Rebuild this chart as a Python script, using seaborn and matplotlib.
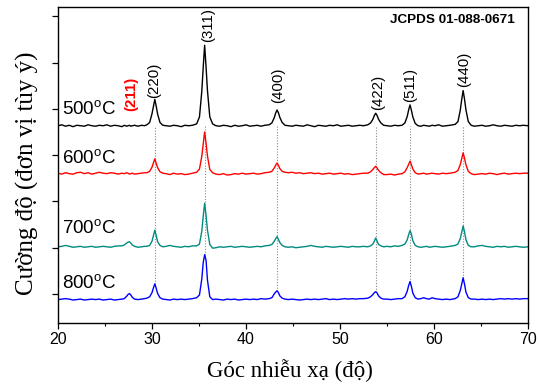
import numpy as np
import pandas as pd
import matplotlib
matplotlib.use("Agg")
import matplotlib.pyplot as plt
import seaborn as sns
from matplotlib.ticker import MultipleLocator

# ---------------- data ----------------
two_theta = [
    20.0, 20.4, 20.8, 21.2, 21.6, 22.0, 22.4, 22.8, 23.2, 23.6, 24.0, 24.4, 24.8, 25.2, 25.6, 26.0, 26.4, 26.8,
    27.05, 27.3, 27.45, 27.6, 27.75, 27.9, 28.15,
    28.5, 28.9, 29.2,
    29.45, 29.75, 30.0, 30.15, 30.3, 30.45, 30.6, 30.85, 31.15,
    31.5, 31.9, 32.3, 32.7, 33.1, 33.5, 33.9, 34.3,
    34.75, 35.05, 35.3, 35.45, 35.6, 35.75, 35.9, 36.15, 36.45,
    36.8, 37.2, 37.6, 38.0, 38.4, 38.8, 39.2, 39.6, 40.0, 40.4, 40.8, 41.2, 41.6, 42.0,
    42.45, 42.75, 43.0, 43.15, 43.3, 43.45, 43.6, 43.85, 44.15,
    44.5, 44.9, 45.3, 45.7, 46.1, 46.5, 46.9, 47.3, 47.7, 48.1, 48.5, 48.9, 49.3, 49.7, 50.1, 50.5, 50.9, 51.3, 51.7, 52.1, 52.5,
    52.95, 53.25, 53.5, 53.65, 53.8, 53.95, 54.1, 54.35, 54.65,
    55.0, 55.4, 55.8, 56.2,
    56.6, 56.9, 57.15, 57.3, 57.45, 57.6, 57.75, 58.0, 58.3,
    58.6, 58.9, 59.2, 59.5, 59.8, 60.1, 60.5, 60.9, 61.3, 61.7, 62.0,
    62.25, 62.55, 62.8, 62.95, 63.1, 63.25, 63.4, 63.65, 63.95,
    64.3, 64.7, 65.1, 65.5, 65.9, 66.3, 66.7, 67.1, 67.5, 67.9, 68.3, 68.7, 69.1, 69.5, 70.0,
]

I_500 = [
    0.00, 0.02, -0.01, 0.01, -0.02, 0.01, 0.00, -0.01, 0.02, 0.00, -0.01, 0.01, 0.00, 0.02, -0.01, 0.01, 0.00, -0.02,
    0.01, -0.01, 0.00, 0.01, -0.01, 0.00, 0.01,
    -0.01, 0.01, 0.00,
    0.02, 0.07, 0.26, 0.42, 0.57, 0.42, 0.25, 0.07, 0.01,
    0.00, -0.01, 0.01, 0.00, -0.02, 0.01, 0.00, 0.01,
    0.04, 0.19, 0.75, 1.27, 1.74, 1.27, 0.76, 0.19, 0.04,
    0.00, -0.01, 0.01, 0.00, -0.02, 0.01, -0.01, 0.00, 0.02, -0.01, 0.00, 0.01, -0.01, 0.01,
    0.02, 0.06, 0.17, 0.27, 0.34, 0.28, 0.18, 0.07, 0.01,
    0.00, -0.01, 0.01, 0.00, -0.01, 0.02, 0.00, -0.02, 0.01, 0.00, -0.01, 0.01, 0.00, 0.02, -0.01, 0.00, 0.01, -0.01, 0.00, 0.01, 0.00,
    0.02, 0.06, 0.14, 0.22, 0.27, 0.22, 0.14, 0.06, 0.01,
    0.00, -0.01, 0.01, 0.00,
    0.01, 0.06, 0.20, 0.34, 0.45, 0.33, 0.19, 0.05, 0.00,
    -0.01, 0.01, 0.00, -0.01, 0.01, 0.00, 0.02, -0.01, 0.00, 0.01, 0.02,
    0.03, 0.09, 0.34, 0.57, 0.76, 0.57, 0.34, 0.09, 0.01,
    -0.01, 0.00, 0.01, -0.01, 0.00, 0.02, 0.00, -0.01, 0.01, 0.00, -0.01, 0.01, 0.00, 0.01, 0.00,
]

I_600 = [
    0.01, -0.01, 0.02, 0.00, -0.01, 0.02, 0.03, 0.00, 0.02, -0.01, 0.01, 0.03, 0.01, 0.00, 0.02, 0.01, -0.01, 0.01,
    0.00, 0.02, 0.01, -0.01, 0.00, 0.01, -0.01,
    0.00, 0.01, 0.02,
    0.02, 0.05, 0.14, 0.23, 0.32, 0.22, 0.13, 0.04, 0.01,
    0.00, -0.02, 0.01, -0.01, 0.00, -0.02, -0.01, 0.01,
    0.03, 0.10, 0.38, 0.65, 0.90, 0.66, 0.38, 0.09, 0.02,
    -0.01, -0.02, 0.00, -0.03, -0.02, 0.00, -0.01, 0.01, -0.01, 0.00, 0.01, -0.01, 0.00, 0.02,
    0.03, 0.05, 0.12, 0.18, 0.23, 0.18, 0.11, 0.05, 0.03,
    0.02, 0.03, 0.01, 0.02, 0.00, 0.01, 0.02, 0.00, 0.01, -0.01, 0.00, 0.01, -0.01, 0.00, 0.01, -0.01, 0.00, -0.02, -0.01, 0.00, 0.01,
    0.01, 0.04, 0.09, 0.13, 0.16, 0.12, 0.07, 0.02, -0.02,
    -0.02, -0.01, -0.03, -0.01,
    0.00, 0.04, 0.13, 0.20, 0.27, 0.19, 0.10, 0.02, -0.01,
    0.00, 0.01, -0.01, 0.00, 0.01, 0.00, -0.01, 0.01, 0.00, 0.01, 0.02,
    0.03, 0.07, 0.20, 0.33, 0.45, 0.33, 0.19, 0.05, 0.00,
    -0.02, -0.01, 0.00, -0.01, 0.01, 0.00, -0.02, 0.00, 0.01, -0.01, 0.00, 0.01, 0.00, 0.01, 0.01,
]

I_700 = [
    0.00, 0.01, 0.03, 0.01, -0.01, 0.00, 0.01, -0.01, 0.00, 0.01, -0.01, 0.00, 0.01, 0.00, -0.01, 0.01, 0.02, 0.02,
    0.04, 0.08, 0.10, 0.11, 0.08, 0.04, 0.01,
    -0.01, 0.00, 0.01,
    0.01, 0.03, 0.12, 0.24, 0.36, 0.24, 0.11, 0.03, 0.00,
    0.01, 0.03, 0.01, 0.00, -0.01, 0.01, 0.00, 0.02,
    0.02, 0.06, 0.34, 0.66, 0.94, 0.68, 0.36, 0.05, -0.03,
    -0.02, 0.00, -0.01, 0.00, 0.01, -0.01, 0.00, 0.01, 0.00, -0.01, 0.00, 0.01, 0.00, 0.02,
    0.03, 0.05, 0.12, 0.17, 0.22, 0.16, 0.09, 0.03, 0.00,
    -0.01, 0.00, -0.02, -0.01, 0.00, 0.01, 0.03, 0.01, 0.00, -0.01, 0.01, 0.00, -0.01, 0.00, 0.01, 0.00, -0.01, 0.01, 0.00, 0.00, 0.01,
    0.00, 0.02, 0.06, 0.12, 0.19, 0.12, 0.05, 0.02, 0.00,
    0.01, 0.00, 0.02, 0.01,
    0.03, 0.06, 0.15, 0.26, 0.35, 0.27, 0.13, 0.03, 0.00,
    -0.01, 0.00, 0.01, -0.01, 0.00, 0.01, 0.00, -0.01, 0.00, 0.01, 0.02,
    0.03, 0.06, 0.18, 0.32, 0.45, 0.32, 0.15, 0.03, 0.00,
    0.00, 0.02, 0.03, 0.01, 0.00, -0.01, 0.01, 0.00, 0.01, -0.01, 0.00, 0.01, 0.00, -0.01, 0.00,
]

I_800 = [
    0.00, 0.01, 0.02, 0.01, -0.01, 0.00, 0.01, -0.01, 0.00, 0.01, 0.00, 0.01, -0.01, 0.00, 0.01, -0.01, 0.00, 0.01,
    0.02, 0.07, 0.11, 0.13, 0.10, 0.05, 0.01,
    0.00, 0.01, 0.02,
    0.03, 0.06, 0.15, 0.25, 0.34, 0.24, 0.13, 0.04, 0.01,
    0.00, -0.01, 0.01, 0.00, 0.01, 0.00, 0.01, 0.02,
    0.04, 0.10, 0.45, 0.80, 0.97, 0.85, 0.42, 0.06, 0.00,
    0.01, 0.00, -0.01, 0.01, 0.00, 0.01, -0.01, 0.00, 0.01, 0.00, 0.01, 0.00, 0.02, 0.01,
    0.02, 0.04, 0.12, 0.16, 0.19, 0.15, 0.08, 0.03, 0.01,
    0.00, 0.01, 0.00, -0.01, 0.00, 0.01, 0.00, 0.01, 0.00, 0.01, 0.02, 0.00, 0.01, 0.00, 0.01, 0.02, 0.01, 0.02, 0.01, 0.02, 0.02,
    0.03, 0.06, 0.11, 0.15, 0.17, 0.14, 0.08, 0.03, 0.01,
    0.01, 0.00, 0.01, 0.02,
    0.02, 0.06, 0.18, 0.30, 0.39, 0.28, 0.14, 0.04, 0.01,
    0.02, 0.04, 0.02, 0.01, 0.04, 0.02, 0.01, 0.00, 0.01, 0.00, 0.01,
    0.02, 0.06, 0.20, 0.34, 0.47, 0.33, 0.16, 0.04, 0.01,
    0.01, 0.00, 0.01, 0.00, 0.01, 0.00, 0.01, 0.02, 0.01, 0.02, 0.01, 0.02, 0.01, 0.02, 0.02,
]

temperatures = ["500", "600", "700", "800"]
peak_positions = [30.3, 35.6, 43.3, 53.8, 57.45, 63.1]
hkl_labels = ["(220)", "(311)", "(400)", "(422)", "(511)", "(440)"]
extra_label = "(211)"
reference_card = "JCPDS 01-088-0671"
x_label = "Góc nhiễu xạ (độ)"
y_label = "Cường độ (đơn vị tùy ý)"

# ---------------- layout / style ----------------
offsets = [3.635, 2.60, 1.02, -0.12]
colors = ["#000000", "#ff0000", "#008b80", "#0000ff"]
temp_label_y = [3.87, 2.80, 1.29, 0.10]
hkl_x = [30.2, 35.96, 43.46, 54.04, 57.45, 63.2]
hkl_y = [4.23, 5.44, 4.13, 3.97, 4.15, 4.47]

sns.set_theme(style="white")
plt.rcParams["font.family"] = ["Liberation Sans", "DejaVu Sans"]
plt.rcParams["mathtext.fontset"] = "custom"
plt.rcParams["mathtext.rm"] = "Liberation Sans"
plt.rcParams["text.color"] = "black"
plt.rcParams["axes.labelcolor"] = "black"
plt.rcParams["xtick.color"] = "black"
plt.rcParams["ytick.color"] = "black"

series = [I_500, I_600, I_700, I_800]
frames = []
for t, vals, off in zip(temperatures, series, offsets):
    frames.append(pd.DataFrame({
        "two_theta": two_theta,
        "intensity": np.asarray(vals) + off,
        "sample": t,
    }))
df = pd.concat(frames, ignore_index=True)

fig = plt.figure(figsize=(5.4, 3.87), dpi=100)
ax = fig.add_axes([58 / 540, 1 - 323 / 387, 470 / 540, 316 / 387])

sns.lineplot(data=df, x="two_theta", y="intensity", hue="sample",
             hue_order=temperatures, palette=colors, legend=False,
             sort=False, estimator=None, linewidth=1.0, ax=ax)

# dotted reference lines
low = [np.interp(p, two_theta, I_800) + offsets[3] for p in peak_positions]
ax.vlines(peak_positions, low, offsets[0], colors="#8a8a8a",
          linestyles=(0, (1, 1.5)), linewidth=0.8, zorder=0)

# labels
for t, y in zip(temperatures, temp_label_y):
    ax.text(20.45, y, t + r"$^\mathrm{o}$C", fontsize=13.5, ha="left",
            va="baseline", color="black")
for lab, x, y in zip(hkl_labels, hkl_x, hkl_y):
    ax.text(x, y, lab, rotation=90, fontsize=10.8, ha="center", va="bottom",
            color="black")
ax.text(27.84, 3.95, extra_label, rotation=90, fontsize=10.8, ha="center",
        va="bottom", color="#ff0000", fontweight="bold")
ax.text(68.6, 5.92, reference_card, fontsize=9.7, fontweight="bold",
        ha="right", va="center", color="black")

ax.set_xlim(20, 70)
ax.set_ylim(-0.626, 6.2)
ax.xaxis.set_major_locator(MultipleLocator(10))
ax.xaxis.set_minor_locator(MultipleLocator(5))
ax.yaxis.set_major_locator(MultipleLocator(1))
ax.set_yticklabels([])
ax.tick_params(axis="x", which="major", bottom=True, direction="out",
               length=4.5, width=0.9, labelsize=11.5, pad=2, colors="black")
ax.tick_params(axis="x", which="minor", bottom=True, direction="out",
               length=2.5, width=0.8, colors="black")
ax.tick_params(axis="y", which="major", left=True, direction="out",
               length=4.5, width=0.9, colors="black")
for s in ax.spines.values():
    s.set_color("black")
    s.set_linewidth(1.0)

ax.set_xlabel(x_label, fontsize=16.5, family=["Liberation Serif", "DejaVu Serif"],
              color="black")
ax.set_ylabel(y_label, fontsize=18, family=["Liberation Serif", "DejaVu Serif"],
              color="black")
ax.xaxis.set_label_coords(0.494, -0.115)
ax.yaxis.set_label_coords(-0.04, 0.475)

fig.savefig("out.png", dpi=100)
